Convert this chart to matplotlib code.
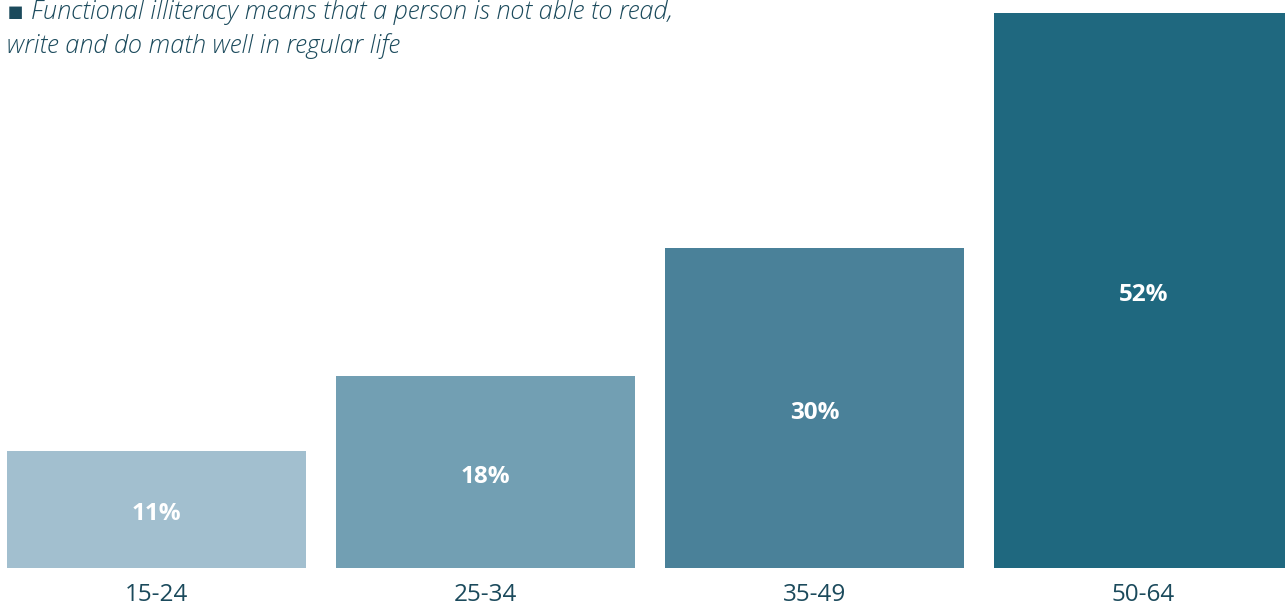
import matplotlib.pyplot as plt
import numpy as np

age_groups = ['15-24', '25-34', '35-49', '50-64']
shares = [11, 18, 30, 52]
bar_colors = ['#A2BFCF', '#729FB3', '#4A8199', '#1F687F']
note = ('\u25aa Functional illiteracy means that a person is not able to read,\n'
        'write and do math well in regular life')

W, H = 1285, 606
fig = plt.figure(figsize=(W / 100, H / 100), dpi=100)
ax = fig.add_axes([7 / W, 38 / H, 1278 / W, 555 / H])

x = np.arange(len(age_groups))
bars = ax.bar(x, shares, width=0.909, color=bar_colors)
ax.set_xlim(-0.4545, -0.4545 + 1278 / 329)
ax.set_ylim(0, max(shares))

for b, v in zip(bars, shares):
    ax.annotate(f'{v}%', (b.get_x() + b.get_width() / 2, v / 2),
                xytext=(0, -3.5), textcoords='offset points',
                ha='center', va='center', color='white',
                fontsize=17.5, fontweight='bold', family='Open Sans')

ax.set_xticks(x, age_groups)
ax.tick_params(axis='x', length=0, pad=10.5, labelsize=17.5, labelcolor='#1B4A5C')
for lab in ax.get_xticklabels():
    lab.set_family('Open Sans')
ax.set_yticks([])
for s in ax.spines.values():
    s.set_visible(False)

fig.text(7 / W, 1, note, ha='left', va='top', fontsize=18.3,
         style='italic', fontweight='light', family=['Open Sans', 'DejaVu Sans'],
         color='#1B4A5C', linespacing=1.38)

fig.savefig('out.png', dpi=100)
